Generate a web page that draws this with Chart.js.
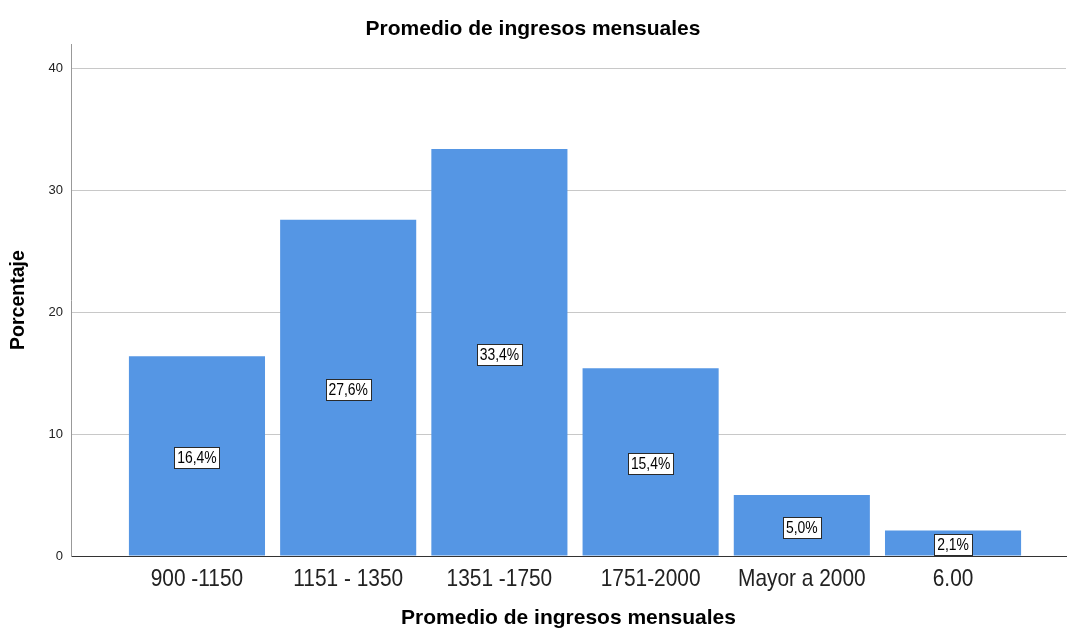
<!DOCTYPE html>
<html>
<head>
<meta charset="utf-8">
<script src="https://cdn.jsdelivr.net/npm/chart.js@4/dist/chart.umd.min.js"></script>
<style>
  html, body { margin: 0; padding: 0; background: #fff; }
  #wrap { width: 1067px; height: 628px; }
</style>
</head>
<body>
<div id="wrap"><canvas id="ingresosChart" width="1067" height="628"></canvas></div>
<script>
const categories = ["900 -1150", "1151 - 1350", "1351 -1750", "1751-2000", "Mayor a 2000", "6.00"];
const percentages = [16.4, 27.6, 33.4, 15.4, 5.0, 2.1];
const pctLabels = ["16,4%", "27,6%", "33,4%", "15,4%", "5,0%", "2,1%"];
const yTicks = [0, 10, 20, 30, 40];

const FONT = "'Liberation Sans', Arial, sans-serif";
const NARROW = 0.87; // the original uses a condensed face

// draws condensed text centred at (x, y)
function narrowText(ctx, text, x, y) {
    ctx.save();
    ctx.translate(x, y);
    ctx.scale(NARROW, 1);
    ctx.fillText(text, 0, 0);
    ctx.restore();
}

// category names under the x axis, placed with the scale
const narrowTicks = {
    id: "narrowTicks",
    afterDraw(chart) {
        const ctx = chart.ctx;
        const xScale = chart.scales.x;
        ctx.save();
        ctx.font = "24px " + FONT;
        ctx.fillStyle = "#222222";
        ctx.textAlign = "center";
        ctx.textBaseline = "middle";
        categories.forEach((c, i) => {
            narrowText(ctx, c, xScale.getPixelForValue(i), xScale.top + 23);
        });
        ctx.restore();
    }
};

// bar labels in white boxes, centred half way up each bar
const boxLabels = {
    id: "boxLabels",
    afterDatasetsDraw(chart) {
        const ctx = chart.ctx;
        const meta = chart.getDatasetMeta(0);
        ctx.save();
        ctx.font = "16px " + FONT;
        ctx.textAlign = "center";
        ctx.textBaseline = "middle";
        meta.data.forEach((bar, i) => {
            const cx = bar.x;
            const cy = (bar.y + bar.base) / 2 + 2;
            const w = Math.round(ctx.measureText(pctLabels[i]).width * NARROW + 6);
            const h = 21;
            const left = Math.round(cx - w / 2) + 0.5;
            const top = Math.round(cy - h / 2) + 0.5;
            ctx.fillStyle = "#ffffff";
            ctx.fillRect(left, top, w, h);
            ctx.strokeStyle = "#2a2a2a";
            ctx.lineWidth = 1;
            ctx.strokeRect(left, top, w, h);
            ctx.fillStyle = "#000000";
            narrowText(ctx, pctLabels[i], cx, cy + 1);
        });
        ctx.restore();
    }
};

const ctx = document.getElementById("ingresosChart").getContext("2d");
new Chart(ctx, {
    type: "bar",
    data: {
        datasets: [{
            label: "Porcentaje",
            data: percentages.map((v, i) => ({ x: i, y: v })),
            backgroundColor: "#5596e4",
            borderWidth: 0,
            barPercentage: 0.9,
            categoryPercentage: 1.0
        }]
    },
    options: {
        responsive: false,
        animation: false,
        layout: { padding: { top: 0, right: 1, bottom: 0, left: 0 } },
        plugins: {
            legend: { display: false },
            tooltip: { enabled: false },
            title: {
                display: true,
                text: "Promedio de ingresos mensuales",
                color: "#000",
                font: { family: FONT, size: 21, weight: "bold" },
                padding: { top: 17, bottom: 2 }
            }
        },
        scales: {
            x: {
                type: "linear",
                offset: false,
                min: -0.833,
                max: 5.747,
                afterBuildTicks: (scale) => {
                    scale.ticks = categories.map((c, i) => ({ value: i }));
                },
                afterFit: (scale) => { scale.height = 72; },
                grid: { display: false, drawTicks: false },
                border: { display: true, color: "#333333", width: 1 },
                ticks: { display: false },
                title: {
                    display: true,
                    text: "Promedio de ingresos mensuales",
                    color: "#000",
                    font: { family: FONT, size: 21, weight: "bold" },
                    padding: { top: 0, bottom: -3 }
                }
            },
            y: {
                min: 0,
                max: 42,
                afterBuildTicks: (scale) => {
                    scale.ticks = yTicks.map(v => ({ value: v }));
                },
                afterFit: (scale) => { scale.width = 71; },
                grid: { color: "#c8c8c8", drawTicks: false },
                border: { display: true, color: "#999999" },
                ticks: {
                    padding: 8,
                    color: "#222",
                    font: { family: FONT, size: 13 }
                },
                title: {
                    display: true,
                    text: "Porcentaje",
                    color: "#000",
                    font: { family: FONT, size: 19.5, weight: "bold" },
                    padding: { top: 7, bottom: 4 }
                }
            }
        }
    },
    plugins: [boxLabels, narrowTicks]
});
</script>
</body>
</html>
